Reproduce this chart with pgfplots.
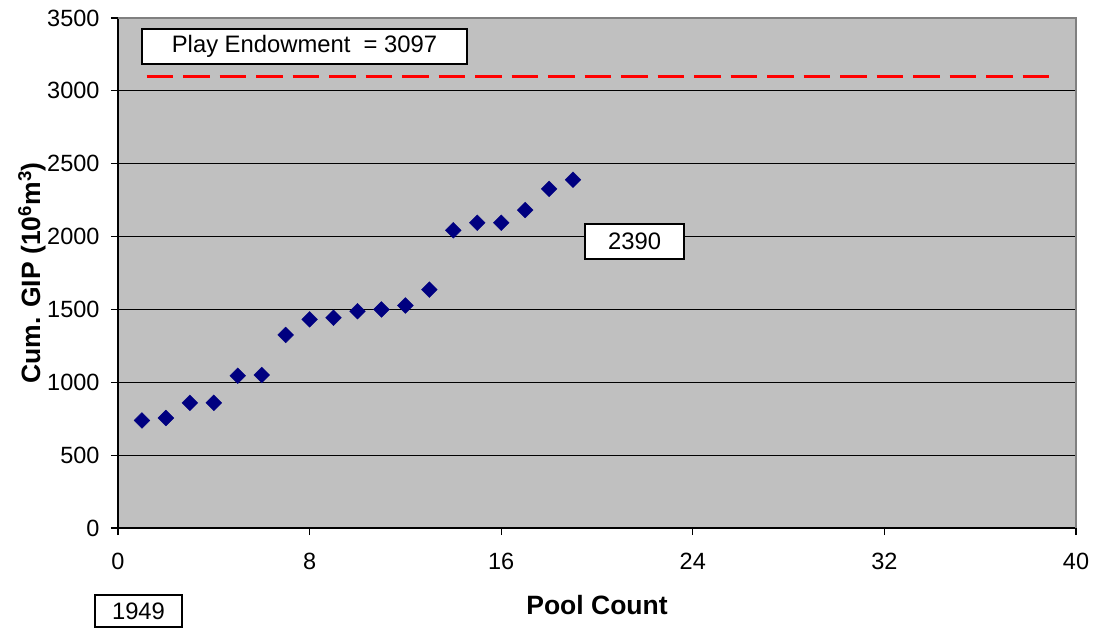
\documentclass[border=0pt]{standalone}
\usepackage{fontspec}
\setmainfont{Liberation Sans}
\usepackage{pgfplots}
\pgfplotsset{compat=1.18}
\definecolor{plotbg}{RGB}{192,192,192}
\definecolor{framegray}{RGB}{128,128,128}
\definecolor{navy}{RGB}{0,0,128}
\begin{document}
\begin{tikzpicture}
\begin{axis}[
  at={(0,0)}, anchor=south west,
  scale only axis,
  width=958bp, height=510bp,
  xmin=0, xmax=40, ymin=0, ymax=3500,
  xtick={0,8,16,24,32,40},
  ytick={0,500,1000,1500,2000,2500,3000,3500},
  axis x line*=bottom, axis y line*=left,
  axis line style={black, line width=1.5bp, -},
  tick align=outside,
  major tick length=7bp,
  tick style={black, line width=1.2bp},
  ymajorgrids,
  grid style={black, line width=1.2bp},
  axis background/.style={fill=plotbg},
  /pgf/number format/assume math mode=true,
  /pgf/number format/1000 sep={},
  tick label style={font=\fontsize{23.5bp}{27bp}\selectfont, black},
  yticklabel style={xshift=-8bp},
  xticklabel style={yshift=-15bp},
  xlabel={\textbf{Pool Count}},
  ylabel={\textbf{Cum. GIP (10\textsuperscript{6}m\textsuperscript{3})}},
  label style={font=\fontsize{26.5bp}{30bp}\selectfont},
  xlabel style={at={(axis description cs:0.5,-0.151)}, anchor=center},
  ylabel style={at={(axis description cs:-0.090,0.5)}, anchor=center, rotate=0},
  clip=false,
]
\addplot[only marks, mark=square*, mark size=5.6pt, mark options={rotate=45, fill=navy, draw=navy}]
coordinates {
(1,738) (2,755) (3,859) (4,859) (5,1045) (6,1050) (7,1325) (8,1432)
(9,1443) (10,1488) (11,1500) (12,1527) (13,1636) (14,2043) (15,2095)
(16,2095) (17,2182) (18,2327) (19,2390)
};
\addplot[red, line width=3bp, dash pattern=on 26.5bp off 10bp] coordinates {(1.2,3097) (39.0,3097)};
\draw[framegray, line width=2.5bp] (rel axis cs:0,1) -- (rel axis cs:1,1) -- (rel axis cs:1,0);
\node[draw=black, fill=white, line width=1.5bp, minimum width=325bp, minimum height=35bp, inner sep=0pt,
  font=\fontsize{23.8bp}{27bp}\selectfont] at (axis cs:7.787,3304) {Play Endowment~ = 3097};
\node[draw=black, fill=white, line width=1.5bp, minimum width=99bp, minimum height=35bp, inner sep=0pt,
  font=\fontsize{23.8bp}{27bp}\selectfont] at (axis cs:21.57,1966) {2390};
\node[draw=black, fill=white, line width=1.5bp, minimum width=87bp, minimum height=32bp, inner sep=0pt,
  font=\fontsize{23.8bp}{27bp}\selectfont] at (axis cs:0.856,-570) {1949};
\end{axis}
\useasboundingbox (-118bp,-100bp) rectangle (979bp,528bp);
\end{tikzpicture}
\end{document}
